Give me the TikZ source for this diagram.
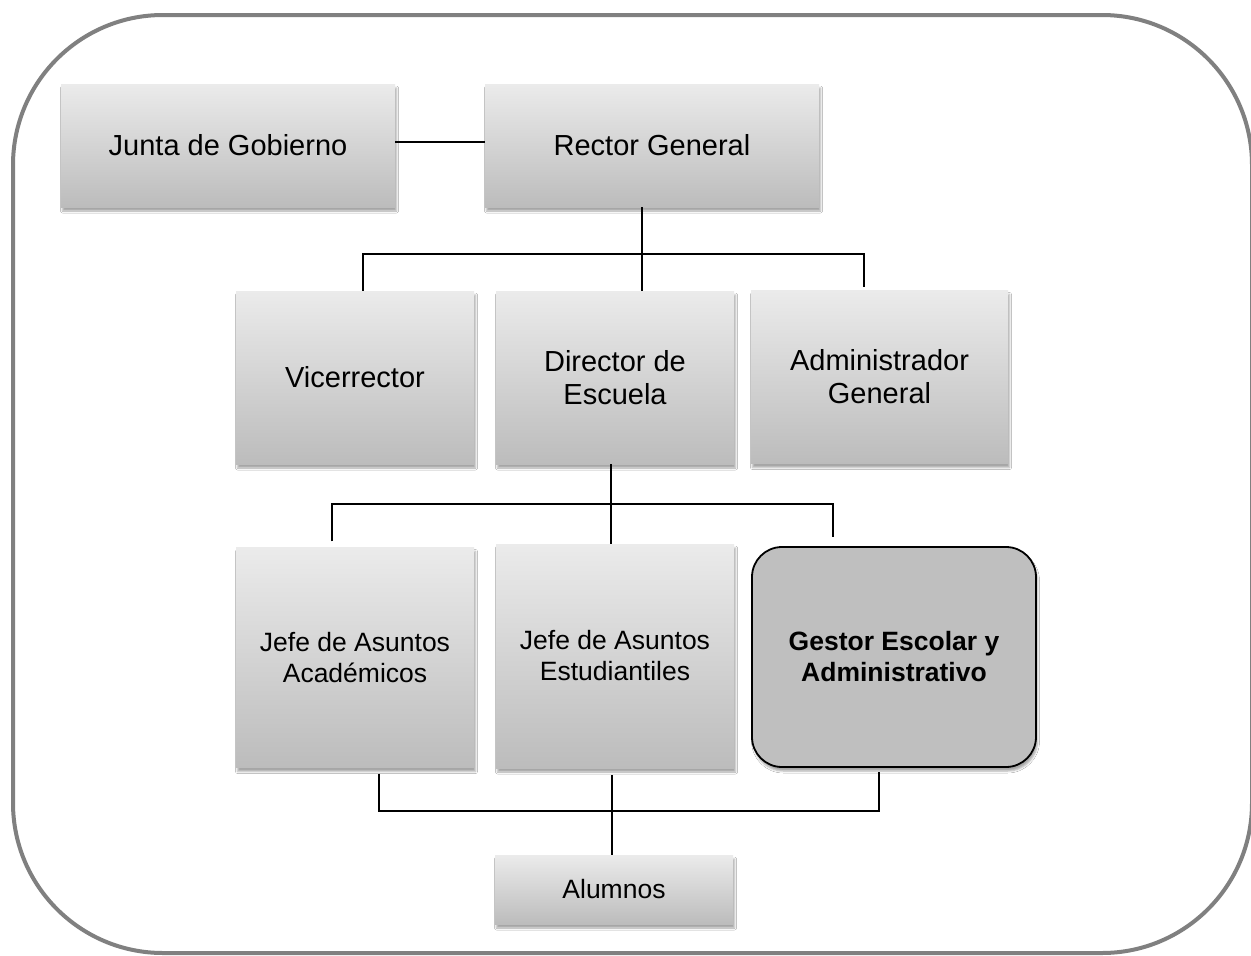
\documentclass[tikz,border=0pt]{standalone}
\usepackage{fontspec}
\setmainfont{Liberation Sans}
\usetikzlibrary{shadows.blur,calc}

\definecolor{framegray}{HTML}{808080}
\definecolor{boxtop}{HTML}{EBEBEB}
\definecolor{boxbottom}{HTML}{BCBCBC}
\definecolor{keyfill}{HTML}{BFBFBF}

\tikzset{
  softshadow/.style={blur shadow={shadow xshift=1.5pt, shadow yshift=-4pt,
      shadow blur radius=2pt, shadow opacity=35}},
  orgbox/.style={rectangle, top color=boxtop, bottom color=boxbottom,
      draw=none, align=center, inner sep=0pt, softshadow},
  keybox/.style={rectangle, rounded corners=30pt, fill=keyfill, draw=black,
      line width=1.8pt, align=center, inner sep=0pt, softshadow},
  bigtext/.style={font=\fontsize{29}{33}\selectfont},
  smalltext/.style={font=\fontsize{26.5}{31}\selectfont},
  boldtext/.style={font=\fontsize{26.5}{31}\selectfont\bfseries},
  link/.style={draw=black, line width=2pt},
}

\begin{document}
\begin{tikzpicture}[x=1pt, y=-1pt]
  \useasboundingbox (0,0) rectangle (1251,956);
  \clip (0,0) rectangle (1251,956);
  \fill[white] (0,0) rectangle (1251,956);

  % outer rounded frame
  \draw[framegray, line width=4pt, rounded corners=150pt] (13,15) rectangle (1252,953);

  % top level
  \node[orgbox, bigtext, minimum width=334pt, minimum height=123pt] (junta) at (228,145.5) {Junta de Gobierno};
  \node[orgbox, bigtext, minimum width=334pt, minimum height=123pt] (rector) at (652,145.5) {Rector General};

  % second level
  \node[orgbox, bigtext, minimum width=238pt, minimum height=173pt] (vice) at (355,377.5) {Vicerrector};
  \node[orgbox, bigtext, minimum width=238pt, minimum height=173pt] (director) at (615,377.5) {Director de\\Escuela};
  \node[orgbox, bigtext, minimum width=257pt, minimum height=173pt] (admin) at (879.5,377) {Administrador\\General};

  % third level
  \node[orgbox, smalltext, minimum width=238pt, minimum height=220pt] (jaa) at (355,657.5) {Jefe de Asuntos\\Académicos};
  \node[orgbox, smalltext, minimum width=238pt, minimum height=224pt] (jae) at (615,656) {Jefe de Asuntos\\Estudiantiles};
  \node[keybox, boldtext, minimum width=284pt, minimum height=220pt] (gestor) at (894,657) {Gestor Escolar y\\Administrativo};

  % bottom
  \node[orgbox, smalltext, minimum width=238pt, minimum height=69pt] (alumnos) at (614,889.5) {Alumnos};

  % junction points of the connector bars
  \coordinate (t1) at (642,254);
  \coordinate (t1l) at (363,254);
  \coordinate (t1r) at (864,254);
  \coordinate (t2) at (611,504);
  \coordinate (t2l) at (332,504);
  \coordinate (t2r) at (833,504);
  \coordinate (t3) at (612,811);
  \coordinate (t3l) at (379,811);
  \coordinate (t3r) at (879,811);

  % connectors
  \draw[link] ([yshift=3.5pt]junta.east) -- ([yshift=3.5pt]rector.west);
  \draw[link] (rector.south -| t1) -- (t1 |- director.north);
  \draw[link, shorten >=3pt] (t1l |- vice.north) -- (t1l) -- (t1r) -- (t1r |- admin.north);

  \draw[link] (director.south -| t2) -- (t2 |- jae.north);
  \draw[link, shorten <=6pt, shorten >=9pt] (t2l |- jaa.north) -- (t2l) -- (t2r) -- (t2r |- gestor.north);

  \draw[link, shorten <=6pt, shorten >=4pt] (jaa.south -| t3l) -- (t3l) -- (t3r) -- (gestor.south -| t3r);
  \draw[link, shorten <=7pt] (jae.south -| t3) -- (t3 |- alumnos.north);
\end{tikzpicture}
\end{document}
